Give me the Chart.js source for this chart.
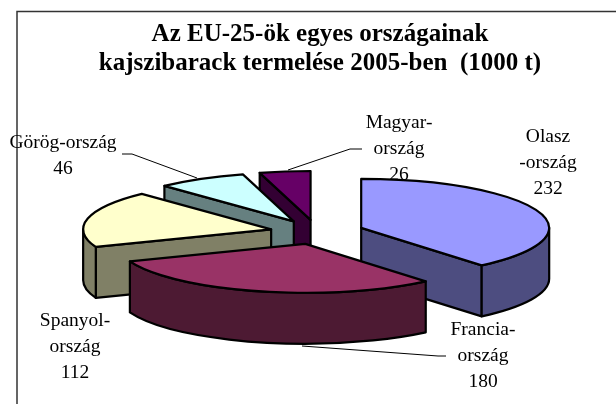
<!DOCTYPE html>
<html><head><meta charset="utf-8">
<style>html,body{margin:0;padding:0;background:#fff}#w{position:relative;width:616px;height:404px;overflow:hidden}canvas{display:block}</style>
<script src="https://cdn.jsdelivr.net/npm/chart.js@4"></script></head>
<body><div id="w"><canvas id="c" width="616" height="404"></canvas></div>
<script>
const categories = ["Olasz-ország","Francia-ország","Spanyol-ország","Görög-ország","Magyar-ország"];
const values = [232,180,112,46,26];
const topColors = ["#9999FF","#993366","#FFFFCC","#CCFFFF","#660066"];
const wallColors = ["#4D4D80","#4D1A33","#808066","#668080","#330033"];
const titleLines = ["Az EU-25-ök egyes országainak","kajszibarack termelése 2005-ben  (1000 t)"];
const labelLines = [["Olasz","-ország","232"],["Francia-","ország","180"],["Spanyol-","ország","112"],["Görög-ország","46"],["Magyar-","ország","26"]];
const labelPos = [[548,136.5],[483,329.5],[75,320.5],[63,142.5],[399,123]];
const leaders = [null,[[446,356],[438,356],[302,346]],null,[[122,154],[132,154],[197,178]],[[362,149],[350,149],[288,170]]];
const SQUASH = 0.26, EXPLODE = 47, DEPTH = 51, NUDGE_X = -3;

const pie3d = {
  id:'pie3d',
  beforeDatasetsDraw(chart){
    const ctx = chart.ctx, arcs = chart.getDatasetMeta(0).data;
    const order = arcs.map((a,i)=>i).sort((p,q)=>Math.sin((arcs[p].startAngle+arcs[p].endAngle)/2)-Math.sin((arcs[q].startAngle+arcs[q].endAngle)/2));
    ctx.save();
    ctx.lineJoin='round'; ctx.lineWidth=2.2; ctx.strokeStyle='#000';
    for(const i of order){
      const a=arcs[i], s=a.startAngle, e=a.endAngle, R=a.outerRadius, m=(s+e)/2;
      const x=a.x+NUDGE_X+EXPLODE*Math.cos(m), y=a.y+EXPLODE*SQUASH*Math.sin(m), rY=R*SQUASH;
      const px=t=>x+R*Math.cos(t), py=t=>y+rY*Math.sin(t);
      const shape=(fn)=>{ctx.beginPath();fn();ctx.closePath();ctx.fillStyle=wallColors[i];ctx.fill();ctx.stroke();};
      const radial=t=>shape(()=>{ctx.moveTo(x,y);ctx.lineTo(px(t),py(t));ctx.lineTo(px(t),py(t)+DEPTH);ctx.lineTo(x,y+DEPTH);});
      if(Math.cos(s)<0) radial(s);
      if(Math.cos(e)>0) radial(e);
      const a1=Math.max(s,0), a2=Math.min(e,Math.PI);
      if(a2>a1) shape(()=>{ctx.ellipse(x,y,R,rY,0,a1,a2);ctx.ellipse(x,y+DEPTH,R,rY,0,a2,a1,true);});
      ctx.save();
      ctx.translate(x,y); ctx.scale(1,SQUASH); ctx.translate(-a.x,-a.y);
      a.draw(ctx,chart.chartArea);
      ctx.restore();
      ctx.beginPath();ctx.moveTo(x,y);ctx.ellipse(x,y,R,rY,0,s,e);ctx.closePath();ctx.stroke();
    }
    ctx.restore();
    return false;
  },
  afterDraw(chart){
    const ctx=chart.ctx;
    ctx.save();
    ctx.strokeStyle='#333'; ctx.lineWidth=1.5;
    ctx.beginPath();ctx.moveTo(616,11.5);ctx.lineTo(17,11.5);ctx.lineTo(17,404);ctx.stroke();
    ctx.strokeStyle='#000'; ctx.lineWidth=1;
    leaders.forEach(l=>{if(!l)return;ctx.beginPath();l.forEach((p,j)=>j?ctx.lineTo(p[0],p[1]):ctx.moveTo(p[0],p[1]));ctx.stroke();});
    ctx.fillStyle='#000';ctx.textAlign='center';ctx.textBaseline='middle';
    ctx.font='19.5px "Liberation Serif"';
    labelLines.forEach((ls,i)=>ls.forEach((t,j)=>ctx.fillText(t,labelPos[i][0],labelPos[i][1]+j*26)));
    ctx.restore();
  }
};

new Chart(document.getElementById('c'),{
  type:'pie',
  data:{labels:categories,datasets:[{data:values,backgroundColor:topColors,borderWidth:0}]},
  plugins:[pie3d],
  options:{
    responsive:false,animation:false,radius:188,rotation:0,
    layout:{padding:{left:24,right:0,top:0,bottom:18.5}},
    plugins:{
      legend:{display:false},tooltip:{enabled:false},
      title:{display:true,text:titleLines,fullSize:false,color:'#000',
        font:{family:'"Liberation Serif"',size:25,weight:'bold',lineHeight:1.16},
        padding:{top:20.5,bottom:0}}
    }
  }
});
</script></body></html>
